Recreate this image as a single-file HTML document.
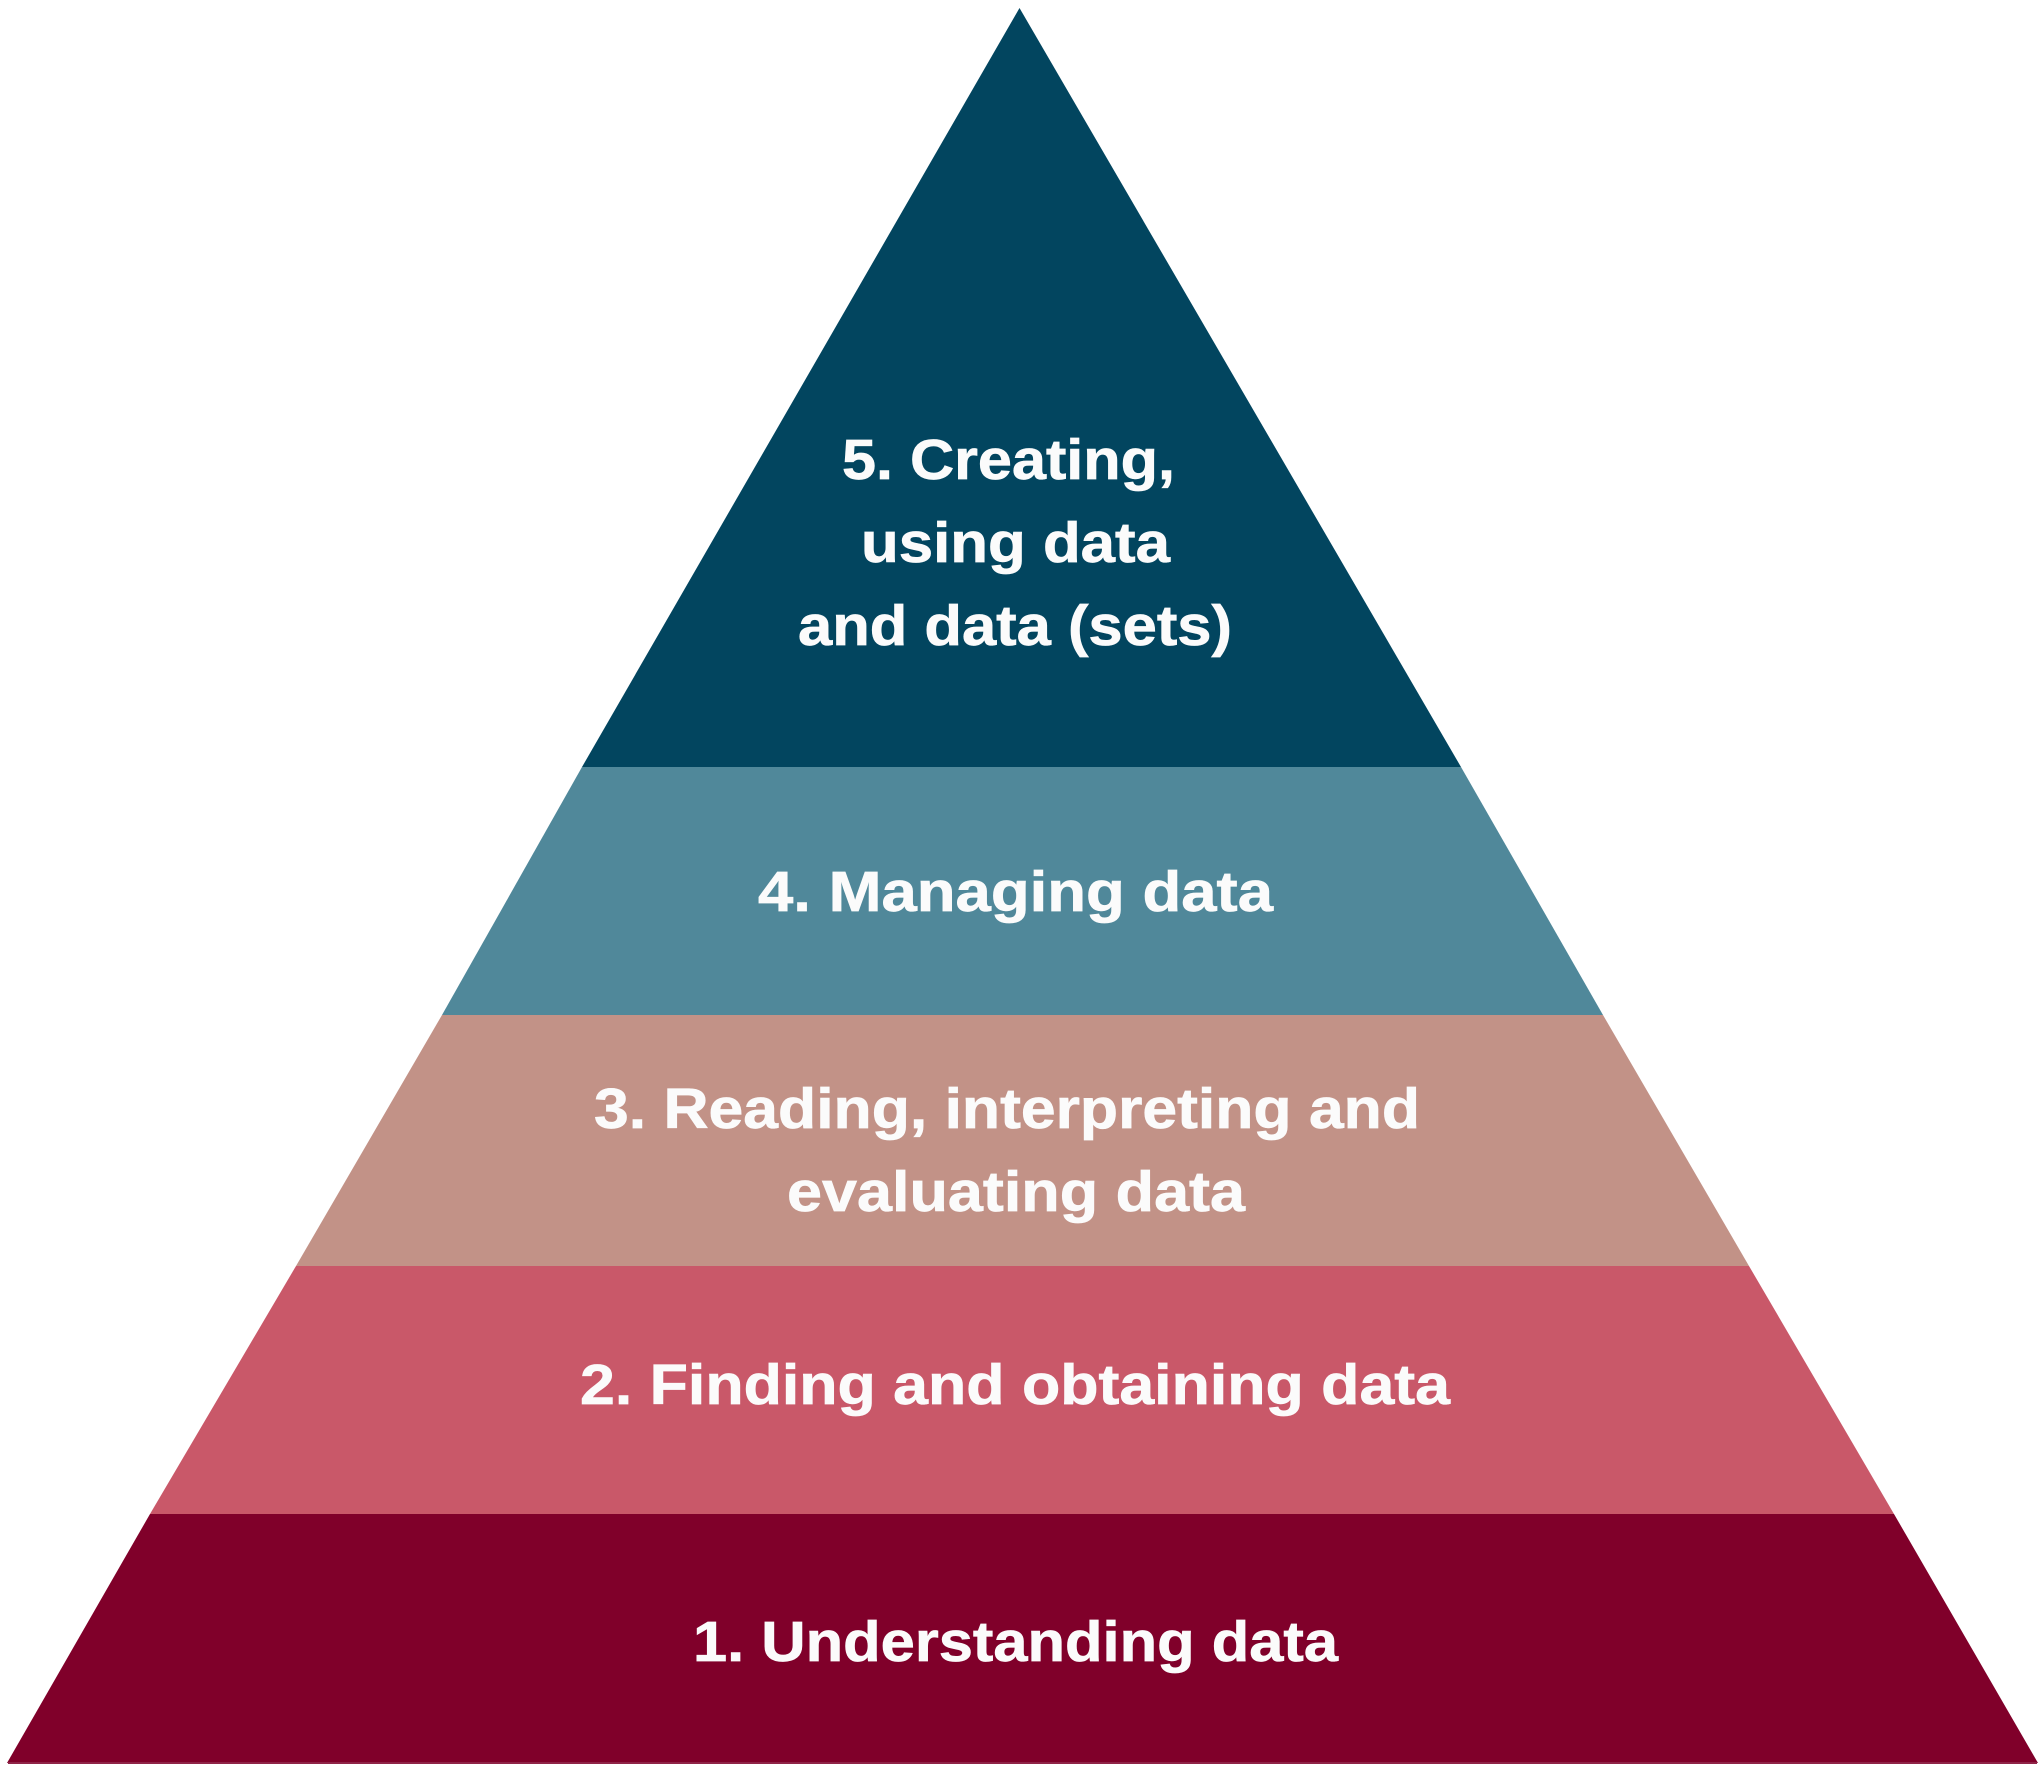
<!DOCTYPE html>
<html>
<head>
<meta charset="utf-8">
<style>
html,body{margin:0;padding:0;background:#fff;width:2040px;height:1772px;overflow:hidden}
svg{display:block}
text{font-family:"Liberation Sans",sans-serif;font-weight:700;font-size:57px;fill:#fbfbfb;stroke:#fbfbfb;stroke-width:.7px}
</style>
</head>
<body>
<svg width="2040" height="1772" viewBox="0 0 2040 1772" xmlns="http://www.w3.org/2000/svg">
<rect width="2040" height="1772" fill="#fff"/>
<polygon points="7,1763 2038,1763 1894,1514 150,1514" fill="#80002a"/>
<rect x="8" y="1762" width="2029" height="2" fill="#8f2347"/>
<polygon points="150,1514 1894,1514 1749,1266 296,1266" fill="#c95869"/>
<polygon points="296,1266 1749,1266 1603,1015 442,1015" fill="#c29287"/>
<polygon points="442,1015 1603,1015 1461,767 582,767" fill="#50889a"/>
<polygon points="582,767 1461,767 1019.5,8" fill="#02455f"/>
<text x="842" y="479" textLength="333" lengthAdjust="spacingAndGlyphs">5. Creating,</text>
<text x="861" y="562" textLength="309" lengthAdjust="spacingAndGlyphs">using data</text>
<text x="798" y="645" textLength="434" lengthAdjust="spacingAndGlyphs">and data (sets)</text>
<text x="758" y="911" textLength="515" lengthAdjust="spacingAndGlyphs">4. Managing data</text>
<text x="594" y="1128" textLength="826" lengthAdjust="spacingAndGlyphs">3. Reading, interpreting and</text>
<text x="787" y="1211" textLength="458" lengthAdjust="spacingAndGlyphs">evaluating data</text>
<text x="580" y="1404" textLength="870" lengthAdjust="spacingAndGlyphs">2. Finding and obtaining data</text>
<text x="693" y="1661" textLength="645" lengthAdjust="spacingAndGlyphs">1. Understanding data</text>
</svg>
</body>
</html>
